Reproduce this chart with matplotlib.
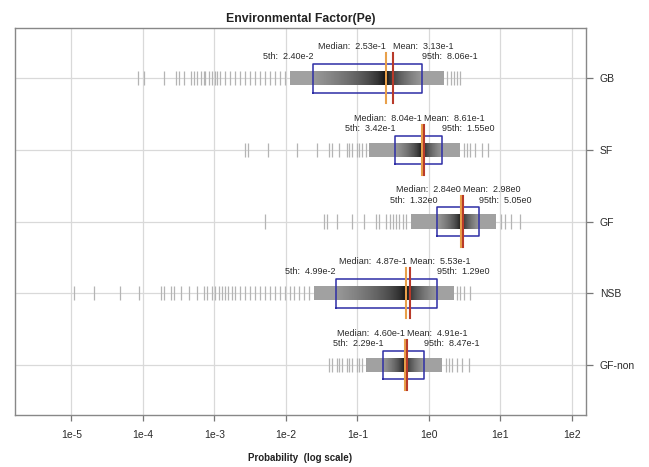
import matplotlib
import numpy as np

matplotlib.use("Agg")
import matplotlib.pyplot as plt
from matplotlib.collections import LineCollection

plt.rcParams["font.family"] = ["Liberation Sans", "DejaVu Sans"]

# rows from top to bottom
groups = ["GB", "SF", "GF", "NSB", "GF-non"]
p05 = [2.40e-2, 3.42e-1, 1.32e0, 4.99e-2, 2.29e-1]
median = [2.53e-1, 8.04e-1, 2.84e0, 4.87e-1, 4.60e-1]
mean = [3.13e-1, 8.61e-1, 2.98e0, 5.53e-1, 4.91e-1]
p95 = [8.06e-1, 1.55e0, 5.05e0, 1.29e0, 8.47e-1]

# extent of the dense (solid) part of each strip, log10
solid_lo = [-1.94, -0.83, -0.25, -1.60, -0.88]
solid_hi = [0.21, 0.44, 0.94, 0.35, 0.18]

# single samples seen in the sparse tails, log10
tails = [
    [-4.07, -3.99, -3.71, -3.53, -3.49, -3.43, -3.33, -3.29, -3.24, -3.19,
     -3.15, -3.13, -3.08, -3.03, -2.99, -2.96, -2.92, -2.85, -2.78, -2.71,
     -2.64, -2.57, -2.50, -2.43, -2.36, -2.29, -2.22, -2.15, -2.08, -2.01,
     0.25, 0.31, 0.35, 0.39, 0.44],
    [-2.57, -2.53, -2.25, -1.85, -1.57, -1.39, -1.35, -1.25, -1.15, -1.11,
     -1.07, -1.01, -0.97, -0.93, -0.88,
     0.49, 0.53, 0.58, 0.65, 0.74, 0.83],
    [-2.29, -1.47, -1.43, -1.28, -1.07, -0.90, -0.74, -0.69, -0.60, -0.54,
     -0.50, -0.46, -0.42, -0.36, -0.32,
     1.01, 1.07, 1.15, 1.28],
    [-4.97, -4.68, -4.32, -4.06, -3.75, -3.71, -3.61, -3.57, -3.47, -3.36,
     -3.24, -3.15, -3.10, -3.03, -2.99, -2.94, -2.89, -2.85, -2.81, -2.75,
     -2.71, -2.64, -2.57, -2.50, -2.43, -2.36, -2.29, -2.22, -2.15, -2.08,
     -2.01, -1.94, -1.88, -1.81, -1.74, -1.67,
     0.39, 0.44, 0.50, 0.58],
    [-1.39, -1.35, -1.29, -1.25, -1.21, -1.15, -1.11, -1.07, -1.01, -0.97,
     -0.93,
     0.24, 0.28, 0.32, 0.39, 0.46, 0.56],
]

decades = [-5, -4, -3, -2, -1, 0, 1, 2]
tick_labels = ["1e-5", "1e-4", "1e-3", "1e-2", "1e-1", "1e0", "1e1", "1e2"]


def sci(v):
    e = int(np.floor(np.log10(v)))
    m = v / 10.0**e
    if round(m, 2) >= 10:
        m, e = m / 10, e + 1
    return f"{m:.2f}e{e}"


def strip_grey(lx, q5, med, q95):
    # light grey outside the box, darkening to black at the median
    g = np.full_like(lx, 0.63)
    left = (lx >= q5) & (lx <= med)
    right = (lx > med) & (lx <= q95)
    g[left] = 0.6 * ((med - lx[left]) / (med - q5)) ** 0.5
    g[right] = 0.6 * ((lx[right] - med) / (q95 - med)) ** 0.5
    return g


fig = plt.figure(figsize=(6.49, 4.67), dpi=100)
ax = fig.add_axes([0.0231, 0.1113, 0.8798, 0.8287])

txt = "#2a2a2a"
n = len(groups)
ys = np.arange(n, 0, -1)

ax.set_xscale("log")
ax.set_xlim(10**-5.79, 10**2.2)
ax.set_ylim(0.3, n + 0.7)

for d in decades:
    ax.axvline(10.0**d, color="#d9d9d9", lw=0.9, zorder=0)
for y in ys:
    ax.axhline(y, color="#d9d9d9", lw=0.9, zorder=0)

for i, y in enumerate(ys):
    lq5, lmed, lq95 = np.log10(p05[i]), np.log10(median[i]), np.log10(p95[i])

    # tail samples
    segs = [[(10**t, y - 0.1), (10**t, y + 0.1)] for t in tails[i]]
    ax.add_collection(LineCollection(segs, colors="#b4b4b4", linewidths=0.9, zorder=1))

    # dense part of the strip
    edges = np.linspace(solid_lo[i], solid_hi[i], 400)
    mid = (edges[:-1] + edges[1:]) / 2
    g = strip_grey(mid, lq5, lmed, lq95)
    ax.pcolormesh(10**edges, [y - 0.1, y + 0.1], g[None, :], cmap="gray",
                  vmin=0, vmax=1, shading="flat", zorder=2)

    # 5th-95th box
    ax.plot([p05[i], p95[i], p95[i], p05[i], p05[i]],
            [y - 0.2, y - 0.2, y + 0.2, y + 0.2, y - 0.2],
            color="#2e2ea6", lw=1.1, zorder=3)

    # median and mean
    ax.plot([median[i], median[i]], [y - 0.35, y + 0.35], color="#e8a04a", lw=1.5, zorder=4)
    ax.plot([mean[i], mean[i]], [y - 0.35, y + 0.35], color="#b83a2a", lw=1.5, zorder=4)

    fs = 6.5
    ax.text(median[i], y + 0.44, "Median:  " + sci(median[i]), ha="right",
            va="center", fontsize=fs, color=txt)
    ax.text(mean[i], y + 0.44, "Mean:  " + sci(mean[i]), ha="left",
            va="center", fontsize=fs, color=txt)
    ax.text(p05[i], y + 0.30, "5th:  " + sci(p05[i]), ha="right",
            va="center", fontsize=fs, color=txt)
    ax.text(p95[i], y + 0.30, "95th:  " + sci(p95[i]), ha="left",
            va="center", fontsize=fs, color=txt)

ax.set_xticks([10.0**d for d in decades])
ax.set_xticklabels(tick_labels, fontsize=7.5, color=txt)
ax.xaxis.set_minor_locator(matplotlib.ticker.NullLocator())
ax.tick_params(axis="x", direction="out", length=4, width=0.9, color="#777777", pad=7)

ax.yaxis.tick_right()
ax.set_yticks(ys)
ax.set_yticklabels(groups, fontsize=7.5, color=txt)
ax.tick_params(axis="y", direction="out", length=5, width=0.9, color="#777777", pad=5)

for s in ax.spines.values():
    s.set_color("#888888")
    s.set_linewidth(1.0)

ax.set_title("Environmental Factor(Pe)", fontsize=8.8, fontweight="bold", color="#222222", pad=4)
ax.set_xlabel("Probability  (log scale)", fontsize=7, fontweight="bold", color="#222222", labelpad=9)

fig.savefig("out.png", dpi=100)
